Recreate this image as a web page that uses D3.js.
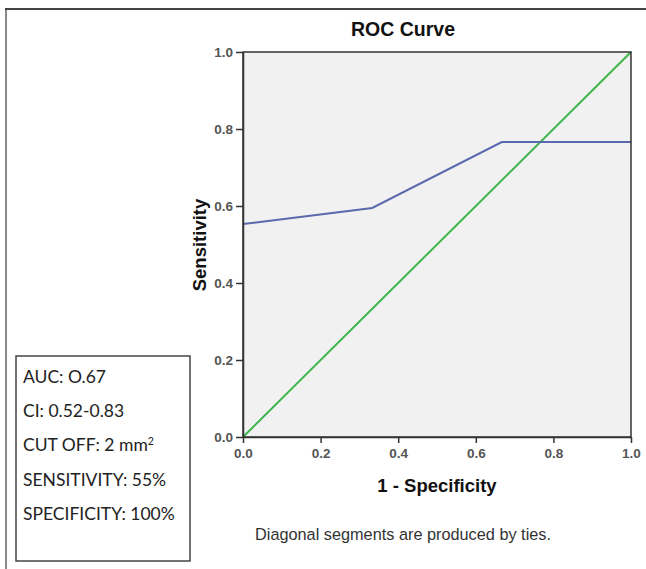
<!DOCTYPE html>
<html><head><meta charset="utf-8">
<script src="https://cdn.jsdelivr.net/npm/d3@7"></script>
<style>body{margin:0;background:#fff;} svg{display:block;}</style>
</head><body>
<script>
const fpr = [0, 0.333, 0.667, 1.0];
const tpr = [0.553, 0.595, 0.766, 0.766];
const refX = [0, 1];
const refY = [0, 1];
const xTicks = [0, 0.2, 0.4, 0.6, 0.8, 1.0];
const yTicks = [0, 0.2, 0.4, 0.6, 0.8, 1.0];
const boxLines = ["AUC: O.67", "CI: 0.52-0.83", "CUT OFF: 2 mm", "SENSITIVITY: 55%", "SPECIFICITY: 100%"];

const W = 646, H = 569;
const svg = d3.select("body").append("svg").attr("width", W).attr("height", H);
const L = 243, R = 631, T = 52, B = 437;
const x = d3.scaleLinear().domain([0, 1]).range([L, R]);
const y = d3.scaleLinear().domain([0, 1]).range([B, T]);

// outer frame
svg.append("line").attr("x1", 6).attr("x2", 6).attr("y1", 9).attr("y2", H).attr("stroke", "#8a8a8a").attr("stroke-width", 2);
svg.append("line").attr("x1", 5).attr("x2", W).attr("y1", 9).attr("y2", 9).attr("stroke", "#444").attr("stroke-width", 2);

// plot bg
svg.append("rect").attr("x", L).attr("y", T).attr("width", R - L).attr("height", B - T).attr("fill", "#f1f1f1");

// lines
const line = d3.line().x(d => x(d[0])).y(d => y(d[1]));
svg.append("path").datum(refX.map((v, i) => [v, refY[i]])).attr("d", line)
  .attr("fill", "none").attr("stroke", "#3db54a").attr("stroke-width", 2);
svg.append("path").datum(fpr.map((v, i) => [v, tpr[i]])).attr("d", line)
  .attr("fill", "none").attr("stroke", "#5a68ad").attr("stroke-width", 2);

// frame
svg.append("rect").attr("x", L).attr("y", T).attr("width", R - L).attr("height", B - T)
  .attr("fill", "none").attr("stroke", "#333").attr("stroke-width", 1.5);

// axes
const xAxis = d3.axisBottom(x).tickValues(xTicks).tickFormat(d3.format(".1f")).tickSize(6).tickSizeOuter(0);
const gx = svg.append("g").attr("transform", `translate(0,${B})`).call(xAxis);
const yAxis = d3.axisLeft(y).tickValues(yTicks).tickFormat(d3.format(".1f")).tickSize(7).tickSizeOuter(0);
const gy = svg.append("g").attr("transform", `translate(${L},0)`).call(yAxis);
[gx, gy].forEach(g => {
  g.attr("font-size", null).attr("font-family", null);
  g.select(".domain").attr("stroke", "#333").attr("stroke-width", 1.5);
  g.selectAll(".tick line").attr("stroke", "#333").attr("stroke-width", 1.5);
  g.selectAll(".tick text").attr("fill", "#555")
    .style("font-family", "'Liberation Sans', Arial, sans-serif")
    .style("font-size", "13.5px").style("font-weight", "bold");
});
gx.selectAll(".tick text").attr("dy", "0.71em").attr("y", 11);
gy.selectAll(".tick text").attr("x", -10);

// titles
svg.append("text").attr("x", 403).attr("y", 36).attr("text-anchor", "middle")
  .attr("font-family", "Liberation Sans, Arial, sans-serif").attr("font-weight", "bold").attr("font-size", 19.5)
  .attr("fill", "#111").text("ROC Curve");
svg.append("text").attr("x", 437).attr("y", 492).attr("text-anchor", "middle")
  .attr("font-family", "Liberation Sans, Arial, sans-serif").attr("font-weight", "bold").attr("font-size", 18.5)
  .attr("fill", "#111").text("1 - Specificity");
svg.append("text").attr("transform", "translate(206,245) rotate(-90)").attr("text-anchor", "middle")
  .attr("font-family", "Liberation Sans, Arial, sans-serif").attr("font-weight", "bold").attr("font-size", 18.5)
  .attr("fill", "#111").text("Sensitivity");
svg.append("text").attr("x", 403).attr("y", 540).attr("text-anchor", "middle")
  .attr("font-family", "Liberation Sans, Arial, sans-serif").attr("font-size", 16.3)
  .attr("fill", "#333").text("Diagonal segments are produced by ties.");

// info box
svg.append("rect").attr("x", 16).attr("y", 356).attr("width", 174).attr("height", 205)
  .attr("fill", "#fff").attr("stroke", "#444").attr("stroke-width", 1.5);
boxLines.forEach((t, i) => {
  const tx = svg.append("text").attr("x", 23).attr("y", 383 + i * 34.2)
    .attr("font-family", "Lato, sans-serif").attr("font-size", 17.5).attr("fill", "#222").text(t);
  if (i === 2) tx.append("tspan").attr("baseline-shift", "super").attr("font-size", 10.5).text("2");
});
</script>
</body></html>
